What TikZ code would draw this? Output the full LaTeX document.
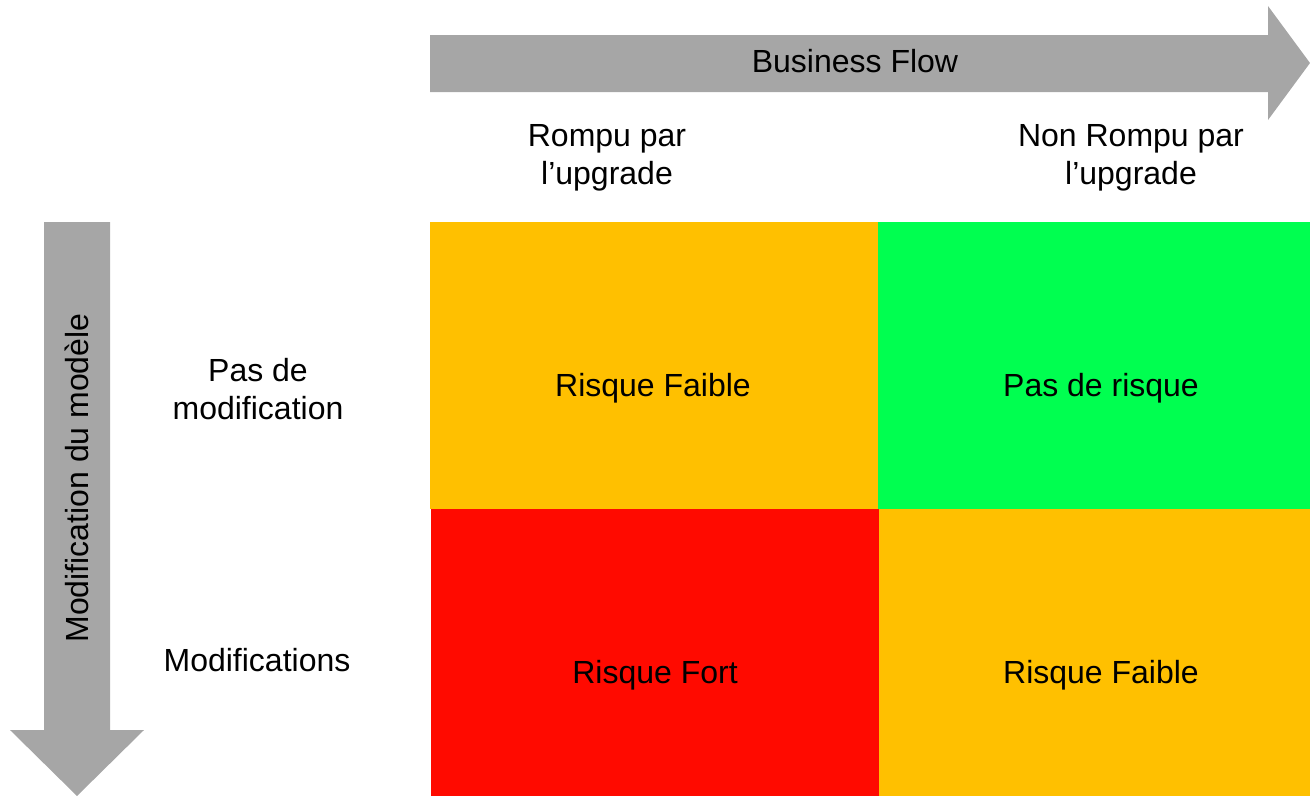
\documentclass[tikz,border=0pt]{standalone}
\usepackage{fontspec}
\setmainfont{Liberation Sans}
\definecolor{arrowgray}{HTML}{A6A6A6}
\definecolor{riskorange}{HTML}{FFC000}
\definecolor{riskgreen}{HTML}{00FF50}
\definecolor{riskred}{HTML}{FF0A00}
\begin{document}
\begin{tikzpicture}[x=1pt,y=-1pt,
  txt/.style={font=\fontsize{32}{38}\selectfont, align=center, inner sep=0pt},
  cell/.style={draw=none, inner sep=0pt, outer sep=0pt, minimum height=287pt},
  bigarrow/.style={fill=arrowgray, draw=none}]
\useasboundingbox (0,0) rectangle (1310,796);
% horizontal arrow
\fill[bigarrow] (430,35) -- (1268,35) -- (1268,6) -- (1310,63) -- (1268,120) -- (1268,92) -- (430,92) -- cycle;
\node[txt] (flow) at (855,61) {Business Flow};
% vertical arrow
\fill[bigarrow] (44,222) -- (110,222) -- (110,730) -- (144,730) -- (77,796) -- (10,730) -- (44,730) -- cycle;
\node[txt, rotate=90] (modele) at (77,478) {Modification du modèle};
% column headers
\node[txt] (col1) at (607,158) {Rompu par\\l’upgrade};
\node[txt] (col2) at (1131,158) {Non Rompu par\\l’upgrade};
% row headers
\node[txt] (row1) at (258,389) {Pas de\\modification};
\node[txt] (row2) at (257,660) {Modifications};
% cells
\node[cell, fill=riskorange, minimum width=448pt] (c11) at (654,365.5) {};
\node[cell, fill=riskgreen, minimum width=432pt] (c12) at (1094,365.5) {};
\node[cell, fill=riskred, minimum width=448pt] (c21) at (654.5,652.5) {};
\node[cell, fill=riskorange, minimum width=432pt] (c22) at (1094.5,652.5) {};
% cell labels
\node[txt] (t11) at (653,388) {Risque Faible};
\node[txt] (t12) at (1101,388) {Pas de risque};
\node[txt] (t21) at (655,675) {Risque Fort};
\node[txt] (t22) at (1101,675) {Risque Faible};
\end{tikzpicture}
\end{document}
